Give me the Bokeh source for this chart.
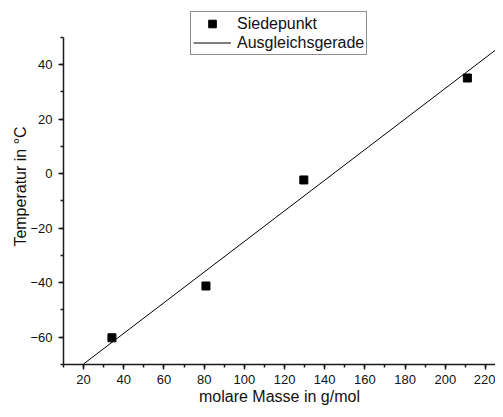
from bokeh.plotting import figure
from bokeh.models import Range1d, SingleIntervalTicker, Legend, LegendItem
from bokeh.embed import file_html
from bokeh.resources import INLINE

# Data
molar_mass = [34.1, 80.9, 129.6, 211.0]
boiling_point = [-60.2, -41.2, -2.3, 35.1]
fit_x = [20.0, 225.0]
fit_y = [-69.8, 45.35]

x_label = "molare Masse in g/mol"
y_label = "Temperatur in °C"
legend_points = "Siedepunkt"
legend_line = "Ausgleichsgerade"

FONT = "Liberation Sans"

p = figure(width=495, height=409, output_backend="svg", toolbar_location=None,
           x_range=Range1d(10, 225), y_range=Range1d(-70, 60.6),
           min_border_left=63, min_border_right=0, min_border_top=8, min_border_bottom=45)
p.outline_line_color = None
p.xgrid.grid_line_color = None
p.ygrid.grid_line_color = None
p.background_fill_color = "white"
p.border_fill_color = "white"

r_line = p.line(fit_x, fit_y, line_color="black", line_width=1)
r_pts = p.scatter(molar_mass, boiling_point, marker="square", size=8,
                  fill_color="black", line_color="black")

for ax in (p.xaxis[0], p.yaxis[0]):
    ax.ticker = SingleIntervalTicker(interval=20, num_minor_ticks=2)
    ax.axis_line_width = 1.5
    ax.axis_line_color = "#1a1a1a"
    ax.major_tick_line_width = 1.5
    ax.minor_tick_line_width = 1.5
    ax.major_tick_line_color = "#1a1a1a"
    ax.minor_tick_line_color = "#1a1a1a"
    ax.major_tick_out = 5
    ax.major_tick_in = 0
    ax.minor_tick_out = 3
    ax.minor_tick_in = 0
    ax.major_label_text_font = FONT
    ax.major_label_text_font_size = "13px"
    ax.major_label_text_color = "#111111"
    ax.axis_label_text_font = FONT
    ax.axis_label_text_font_size = "16px"
    ax.axis_label_text_font_style = "normal"
    ax.axis_label_text_color = "#111111"

p.yaxis[0].bounds = (-70, 50)
p.xaxis[0].axis_label = x_label
p.yaxis[0].axis_label = y_label
p.xaxis[0].major_label_standoff = 5
p.yaxis[0].major_label_standoff = 6
p.xaxis[0].axis_label_standoff = 1
p.yaxis[0].axis_label_standoff = -2

legend = Legend(items=[LegendItem(label=legend_points, renderers=[r_pts]),
                       LegendItem(label=legend_line, renderers=[r_line])],
                location=(127, 309))
legend.label_text_font = FONT
legend.label_text_font_size = "16px"
legend.label_text_line_height = 1.0
legend.label_text_color = "#111111"
legend.glyph_width = 38
legend.glyph_height = 19
legend.label_height = 19
legend.label_standoff = 6
legend.spacing = 0
legend.padding = 2
legend.margin = 0
legend.border_line_color = "#222222"
legend.border_line_width = 1
legend.background_fill_color = "white"
legend.background_fill_alpha = 1
p.add_layout(legend, "center")

open("out.html", "w").write(file_html(p, INLINE))
